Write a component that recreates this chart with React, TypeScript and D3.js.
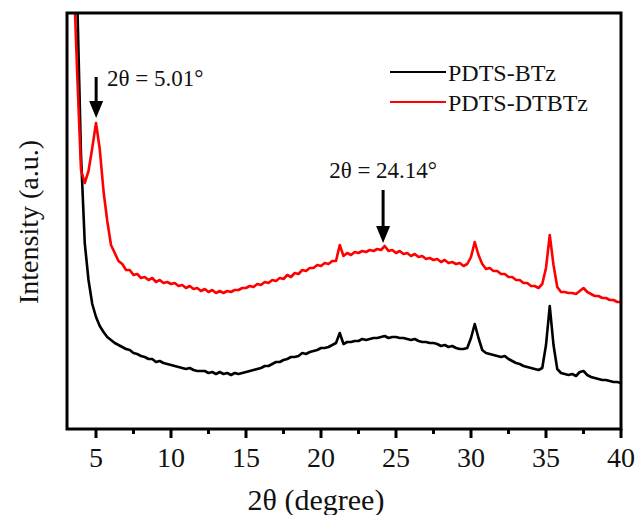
import React from "react";
import * as d3 from "d3";

// XRD patterns, sampled every 0.25 deg from 3.25 to 40 (4 samples per row)
const thetaStart = 3.25
const thetaStep = 0.25

const pdtsBTz = [
  829, 629, 429, 274,
  186, 149, 125, 112,
  103, 97, 92, 89,
  86, 84, 82, 80,
  79, 76, 75, 73,
  72, 70, 70, 67,
  68, 66, 65, 64,
  63, 62, 61, 60,
  61, 59, 58, 58,
  58, 56, 57, 55,
  57, 55, 56, 54,
  56, 55, 56, 57,
  58, 59, 60, 61,
  63, 63, 65, 67,
  67, 69, 70, 72,
  72, 73, 76, 75,
  77, 78, 79, 81,
  81, 82, 84, 86,
  96, 85, 87, 87,
  88, 88, 90, 89,
  90, 91, 91, 92,
  93, 91, 92, 92,
  91, 91, 90, 89,
  90, 88, 87, 87,
  86, 86, 85, 83,
  84, 82, 83, 81,
  80, 80, 81, 91,
  105, 91, 79, 76,
  75, 74, 73, 72,
  73, 70, 68, 66,
  65, 63, 62, 61,
  60, 59, 61, 84,
  123, 84, 60, 56,
  55, 54, 55, 53,
  57, 58, 54, 52,
  51, 50, 49, 49,
  48, 47, 47, 46,
]

const pdtsDTBTz = [
  579, 459, 354, 259,
  246, 258, 281, 306,
  280, 238, 208, 184,
  176, 168, 165, 159,
  159, 154, 155, 151,
  152, 149, 151, 147,
  149, 146, 147, 145,
  146, 143, 144, 141,
  143, 140, 141, 138,
  140, 137, 139, 136,
  138, 136, 138, 137,
  139, 139, 141, 141,
  143, 142, 145, 144,
  147, 146, 149, 148,
  151, 150, 154, 152,
  156, 155, 159, 158,
  161, 161, 164, 163,
  166, 165, 168, 168,
  184, 173, 176, 174,
  177, 176, 178, 177,
  179, 178, 180, 179,
  183, 178, 179, 176,
  178, 175, 176, 173,
  175, 172, 173, 170,
  171, 169, 170, 167,
  169, 166, 167, 165,
  166, 163, 165, 172,
  187, 174, 165, 160,
  161, 158, 158, 155,
  155, 152, 152, 149,
  149, 146, 146, 143,
  143, 141, 145, 161,
  194, 164, 142, 137,
  137, 136, 136, 135,
  138, 141, 137, 135,
  133, 133, 131, 131,
  129, 129, 127, 127,
]

const seriesNames = ["PDTS-BTz", "PDTS-DTBTz"]
const seriesColors = ["#000000", "#ff0000"]
const majorTicks = [5, 10, 15, 20, 25, 30, 35, 40]
const minorTicks = [7.5, 12.5, 17.5, 22.5, 27.5, 32.5, 37.5]
const peakNotes = [
  { theta: 5.01, label: "2θ = 5.01°" },
  { theta: 24.14, label: "2θ = 24.14°" },
]

const font = "Liberation Serif"

export default function App() {
  const width = 638
  const height = 515
  const left = 67, right = 621, top = 13, bottom = 429

  const x = d3.scaleLinear().domain([3, 40]).range([66, 621])
  const y = d3.scaleLinear().domain([0, 416]).range([bottom, top])

  const toPts = (vals: number[]) => vals.map((v, i) => [thetaStart + i * thetaStep, v] as [number, number])
  const line = d3.line<[number, number]>().x(d => x(d[0])).y(d => y(d[1]))

  const series = [pdtsBTz, pdtsDTBTz]

  // arrow geometry for the annotations
  const arrows = [
    { tip: 118, tail: 77, tx: 107, ty: 86, anchor: "start" },
    { tip: 243, tail: 190, tx: 398, ty: 178, anchor: "middle" },
  ]

  return (
    <svg width={width} height={height} style={{ position: "absolute", left: 0, top: 0, background: "#fff" }}>
      <clipPath id="plot-clip">
        <rect x={left} y={top} width={right - left} height={bottom - top} />
      </clipPath>

      <g clipPath="url(#plot-clip)">
        {series.map((s, i) => (
          <path key={seriesNames[i]} d={line(toPts(s)) ?? ""} fill="none"
            stroke={seriesColors[i]} strokeWidth={2.6} strokeLinejoin="round" />
        ))}
      </g>

      {/* frame */}
      <rect x={left} y={top} width={right - left} height={bottom - top} fill="none" stroke="#000" strokeWidth={3} />

      <g fontFamily={font} fill="#111">
        {/* x ticks */}
        {majorTicks.map(t => (
          <g key={t}>
            <line x1={x(t)} x2={x(t)} y1={bottom} y2={bottom + 9} stroke="#000" strokeWidth={3} />
            <text x={x(t)} y={467} textAnchor="middle" fontSize={28}>{t}</text>
          </g>
        ))}
        {minorTicks.map(t => (
          <line key={t} x1={x(t)} x2={x(t)} y1={bottom} y2={bottom + 5} stroke="#000" strokeWidth={3} />
        ))}

        <text x={316} y={510} textAnchor="middle" fontSize={30}>2θ (degree)</text>
        <text transform="translate(38,222) rotate(-90)" textAnchor="middle" fontSize={28}>Intensity (a.u.)</text>

        {/* annotations */}
        {peakNotes.map((p, i) => {
          const a = arrows[i]
          const px = x(p.theta)
          return (
            <g key={p.label}>
              <line x1={px} x2={px} y1={a.tail} y2={a.tip - 12} stroke="#000" strokeWidth={3} />
              <path d={`M${px - 7},${a.tip - 17} L${px + 7},${a.tip - 17} L${px},${a.tip} Z`} fill="#000" />
              <text x={i === 0 ? a.tx : px} y={a.ty} textAnchor={a.anchor} fontSize={23}>{p.label}</text>
            </g>
          )
        })}

        {/* legend */}
        {seriesNames.map((n, i) => (
          <g key={n} transform={`translate(390,${72 + i * 30})`}>
            <line x1={0} x2={56} y1={0} y2={0} stroke={seriesColors[i]} strokeWidth={2} />
            <text x={58} y={9} fontSize={24}>{n}</text>
          </g>
        ))}
      </g>
    </svg>
  )
}
